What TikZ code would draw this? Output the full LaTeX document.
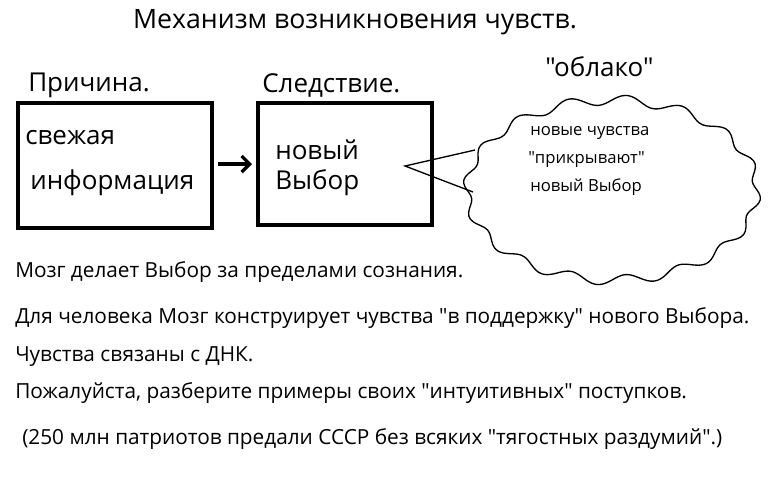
\documentclass[tikz,border=0pt]{standalone}
\usepackage{fontspec}
\setmainfont{Open Sans}[Ligatures=TeXOff]
\usetikzlibrary{arrows.meta}
\newcommand\qq{"}
\begin{document}
\begin{tikzpicture}[x=0.75pt,y=-0.75pt,
  box/.style={draw,line width=3pt},
  txt/.style={anchor=west,inner sep=0pt,font=\fontsize{15.6}{18}\selectfont},
  big/.style={anchor=west,inner sep=0pt,font=\fontsize{19.5}{22}\selectfont},
  ctxt/.style={anchor=west,inner sep=0pt,font=\fontsize{12.5}{15}\selectfont}]
\useasboundingbox[fill=white] (0,0) rectangle (768,480);
\node[anchor=center,inner sep=0pt,font=\fontsize{20}{22}\selectfont] (title) at (355,22) {Механизм возникновения чувств.};
\node[big] (cause) at (28,85) {Причина.};
\node[big] (effect) at (262,85) {Следствие.};
\node[big] (cloudlbl) at (545,67) {\qq облако\qq};
\draw[box] (18,103) rectangle (212,228);
\node[big] (t1) at (25,138) {свежая};
\node[big] (t2) at (30,183) {информация};
\draw[box] (258,103) rectangle (432,225);
\node[big] (t3) at (275,150) {новый};
\node[big] (t4) at (275,183) {Выбор};
\coordinate (a1) at (218,164);
\coordinate (a2) at (252,164);
\draw[line width=2.5pt,-{Straight Barb[length=6pt,width=12pt]}] (a1) -- (a2);
\draw[line width=1pt] plot[smooth cycle,samples=180,domain=0:358,variable=\t]
  ({612+(145+4*sin(16*\t))*cos(\t)},{190+(90+5*sin(16*\t))*sin(\t)});
\coordinate (c0) at (405,166);
\coordinate (c1) at (475,150);
\coordinate (c2) at (473,192);
\draw[line width=1pt] (c1) -- (c0) -- (c2);
\node[ctxt] (ct1) at (530,133) {новые чувства};
\node[ctxt] (ct2) at (528,160) {\qq прикрывают\qq};
\node[ctxt] (ct3) at (530,187) {новый Выбор};
\node[txt] (l1) at (15,272) {Мозг делает Выбор за пределами сознания.};
\node[txt] (l2) at (15,318) {Для человека Мозг конструирует чувства \qq в поддержку\qq{} нового Выбора.};
\node[txt] (l3) at (15,357) {Чувства связаны с ДНК.};
\node[txt] (l4) at (15,393) {Пожалуйста, разберите примеры своих \qq интуитивных\qq{} поступков.};
\node[txt] (l5) at (22,439) {(250 млн патриотов предали СССР без всяких \qq тягостных раздумий\qq.)};
\end{tikzpicture}
\end{document}
